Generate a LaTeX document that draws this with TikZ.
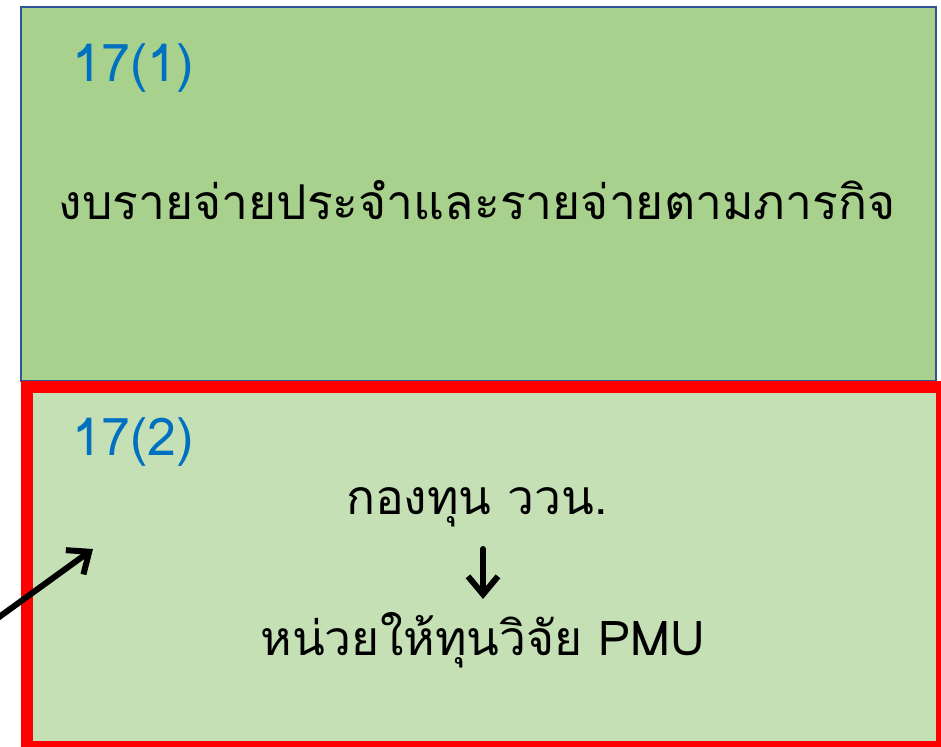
\documentclass[tikz,border=0pt]{standalone}
\usepackage{fontspec}
\newfontfamily\thaifont[Script=Thai]{Loma}
\usetikzlibrary{arrows.meta}
\definecolor{topgreen}{HTML}{A9D18E}
\definecolor{botgreen}{HTML}{C5E0B4}
\definecolor{topborder}{HTML}{2F5597}
\definecolor{numblue}{HTML}{0070C0}
\tikzset{
  numlabel/.style={anchor=west, text=numblue, font=\thaifont\fontsize{52}{60}\selectfont, inner sep=0pt},
  thaitext/.style={text=black, font=\thaifont\fontsize{48}{56}\selectfont, inner sep=0pt},
  blackarrow/.style={line width=6pt, -{Straight Barb[length=18pt,width=30pt,line width=6pt]}, line cap=round}
}
\begin{document}
\begin{tikzpicture}[x=1pt,y=-1pt]
\useasboundingbox (0,0) rectangle (941,746);
\fill[white] (0,0) rectangle (941,746);
\node[draw=topborder, line width=2.2pt, fill=topgreen, minimum width=915pt, minimum height=374pt, inner sep=0pt, anchor=north west] (topbox) at (20,6) {};
\node[draw=red, line width=12pt, fill=botgreen, minimum width=914.5pt, minimum height=360pt, inner sep=0pt, anchor=north west] (botbox) at (21,380.5) {};
\node[numlabel] (n1) at (72,68) {17(1)};
\node[thaitext] (t1) at (477,200) {งบรายจ่ายประจำและรายจ่ายตามภารกิจ};
\node[numlabel] (n2) at (72,442) {17(2)};
\node[thaitext] (t2) at (477,507) {กองทุน ววน.};
\node[thaitext] (t3) at (483,640) {หน่วยให้ทุนวิจัย PMU};
\coordinate (ds) at (483,549);
\coordinate (de) at (483,599);
\draw[blackarrow] (ds) -- (de);
\coordinate (as) at (-5,620);
\coordinate (ae) at (93,549);
\draw[blackarrow] (as) -- (ae);
\end{tikzpicture}
\end{document}
